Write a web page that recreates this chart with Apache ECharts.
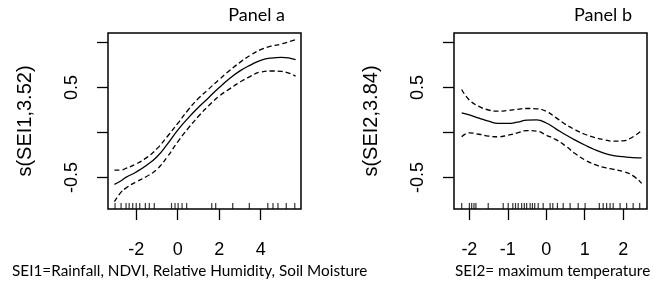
<!DOCTYPE html>
<html>
<head>
<meta charset="utf-8">
<script src="https://cdn.jsdelivr.net/npm/echarts@6/dist/echarts.min.js"></script>
<style>
  html, body { margin: 0; padding: 0; background: #fff; }
  #chart { width: 654px; height: 282px; }
</style>
</head>
<body>
<div id="chart"></div>
<script>
// panel a : SEI1
var sei1X     = [-3.05, -2.75, -2.5, -2, -1.5, -1, -0.5, 0, 0.5, 1, 1.5, 2, 2.5, 3, 3.5, 4, 4.5, 5, 5.68];
var sei1Fit   = [-0.578, -0.54, -0.50, -0.44, -0.365, -0.27, -0.13, 0.026, 0.16, 0.28, 0.39, 0.50, 0.60, 0.685, 0.75, 0.803, 0.828, 0.835, 0.811];
var sei1Upper = [-0.419, -0.419, -0.40, -0.35, -0.28, -0.18, -0.045, 0.10, 0.25, 0.38, 0.485, 0.59, 0.69, 0.78, 0.86, 0.922, 0.96, 0.985, 1.033];
var sei1Lower = [-0.77, -0.67, -0.62, -0.55, -0.49, -0.41, -0.27, -0.104, 0.045, 0.18, 0.30, 0.405, 0.485, 0.56, 0.625, 0.673, 0.684, 0.68, 0.626];
var sei1Rug   = [-3.02, -2.73, -2.49, -2.34, -2.17, -2.0, -1.83, -1.56, -1.37, -1.13, -0.30, -0.13, 0.02, 0.21, 0.43, 1.64, 1.83, 2.65, 3.45, 4.34, 4.59, 4.83, 5.23, 5.64];
var sei1Ticks = [-2, 0, 2, 4];

// panel b : SEI2
var sei2X     = [-2.2, -2, -1.75, -1.5, -1.25, -1, -0.75, -0.5, -0.25, 0, 0.25, 0.5, 0.75, 1, 1.25, 1.5, 1.75, 2, 2.25, 2.48];
var sei2Fit   = [0.218, 0.195, 0.16, 0.125, 0.10, 0.10, 0.115, 0.138, 0.14, 0.105, 0.04, -0.025, -0.085, -0.14, -0.19, -0.23, -0.257, -0.27, -0.28, -0.282];
var sei2Upper = [0.478, 0.36, 0.29, 0.25, 0.237, 0.245, 0.258, 0.267, 0.263, 0.235, 0.165, 0.09, 0.03, -0.02, -0.055, -0.08, -0.097, -0.093, -0.05, 0.02];
var sei2Lower = [-0.048, -0.005, -0.02, -0.04, -0.048, -0.03, -0.005, 0.02, 0.015, -0.03, -0.08, -0.15, -0.235, -0.305, -0.355, -0.39, -0.41, -0.435, -0.48, -0.567];
var sei2Rug   = [-2.2, -2.0, -1.94, -1.88, -1.83, -1.51, -1.12, -0.99, -0.87, -0.80, -0.73, -0.64, -0.57, -0.51, -0.42, -0.36, -0.30, -0.21, -0.08, 0.10, 0.17, 0.29, 0.44, 0.62, 0.83, 1.01, 1.38, 1.48, 1.57, 1.66, 1.74, 1.92, 2.09, 2.26, 2.43];
var sei2Ticks = [-2, -1, 0, 1, 2];

var yTicks  = [-0.5, 0, 0.5, 1];
var yLabels = [-0.5, 0.5];
var yMin = -0.852, yMax = 1.107;

function pairs(xs, ys) {
    var out = [];
    for (var i = 0; i < xs.length; i++) out.push([xs[i], ys[i]]);
    return out;
}
function rug(xs) {
    return xs.map(function (x) { return [x, yMin]; });
}

var axisFont = { fontFamily: 'Liberation Sans', fontSize: 18, color: '#000' };

function xAxisFor(idx, min, max, ticks) {
    return {
        type: 'value', gridIndex: idx, min: min, max: max,
        splitLine: { show: false },
        axisLine: { show: false, onZero: false },
        axisTick: { show: true, length: 11, inside: false, customValues: ticks,
                    lineStyle: { color: '#000', width: 1.3 } },
        axisLabel: Object.assign({ customValues: ticks, margin: 32 }, axisFont)
    };
}
function yAxisFor(idx, name) {
    return {
        type: 'value', gridIndex: idx, min: yMin, max: yMax,
        name: name, nameLocation: 'middle', nameGap: 73, nameRotate: 90,
        nameTextStyle: { fontFamily: 'Liberation Sans', fontSize: 20, color: '#000' },
        splitLine: { show: false },
        axisLine: { show: false, onZero: false },
        axisTick: { show: true, length: 11, customValues: yTicks,
                    lineStyle: { color: '#000', width: 1.3 } },
        axisLabel: Object.assign({ customValues: yLabels, rotate: 90, margin: 27,
                    formatter: function (v) { return String(v); } }, axisFont)
    };
}
function lineSeries(idx, data, dashed) {
    return {
        type: 'line', xAxisIndex: idx, yAxisIndex: idx, data: data,
        showSymbol: false, smooth: true, silent: true,
        lineStyle: { color: '#000', width: 1.3, type: dashed ? [5, 3] : 'solid' }
    };
}
function rugSeries(idx, data) {
    return {
        type: 'scatter', xAxisIndex: idx, yAxisIndex: idx, data: data, silent: true,
        symbol: 'rect', symbolSize: [1.2, 6], symbolOffset: [0, -3],
        itemStyle: { color: '#000' }
    };
}

var myChart = echarts.init(document.getElementById('chart'));
myChart.setOption({
    backgroundColor: '#fff',
    animation: false,
    grid: [
        { left: 108, top: 33, width: 193, height: 176, show: true, borderColor: '#000', borderWidth: 1.5, backgroundColor: 'transparent' },
        { left: 454, top: 33, width: 193, height: 176, show: true, borderColor: '#000', borderWidth: 1.5, backgroundColor: 'transparent' }
    ],
    xAxis: [
        xAxisFor(0, -3.36, 5.94, sei1Ticks),
        xAxisFor(1, -2.4, 2.62, sei2Ticks)
    ],
    yAxis: [
        yAxisFor(0, 's(SEI1,3.52)'),
        yAxisFor(1, 's(SEI2,3.84)')
    ],
    graphic: [
        { type: 'text', right: 369, top: 6, style: { text: 'Panel a', font: '18px Lato', fill: '#000' } },
        { type: 'text', right: 22, top: 6, style: { text: 'Panel b', font: '18px Lato', fill: '#000' } },
        { type: 'text', left: 12, top: 264, style: { text: 'SEI1=Rainfall, NDVI, Relative Humidity, Soil Moisture', font: '15.3px Lato', fill: '#000' } },
        { type: 'text', left: 455, top: 264, style: { text: 'SEI2= maximum temperature', font: '15.3px Lato', fill: '#000' } }
    ],
    series: [
        lineSeries(0, pairs(sei1X, sei1Fit), false),
        lineSeries(0, pairs(sei1X, sei1Upper), true),
        lineSeries(0, pairs(sei1X, sei1Lower), true),
        rugSeries(0, rug(sei1Rug)),
        lineSeries(1, pairs(sei2X, sei2Fit), false),
        lineSeries(1, pairs(sei2X, sei2Upper), true),
        lineSeries(1, pairs(sei2X, sei2Lower), true),
        rugSeries(1, rug(sei2Rug))
    ]
});
</script>
</body>
</html>
